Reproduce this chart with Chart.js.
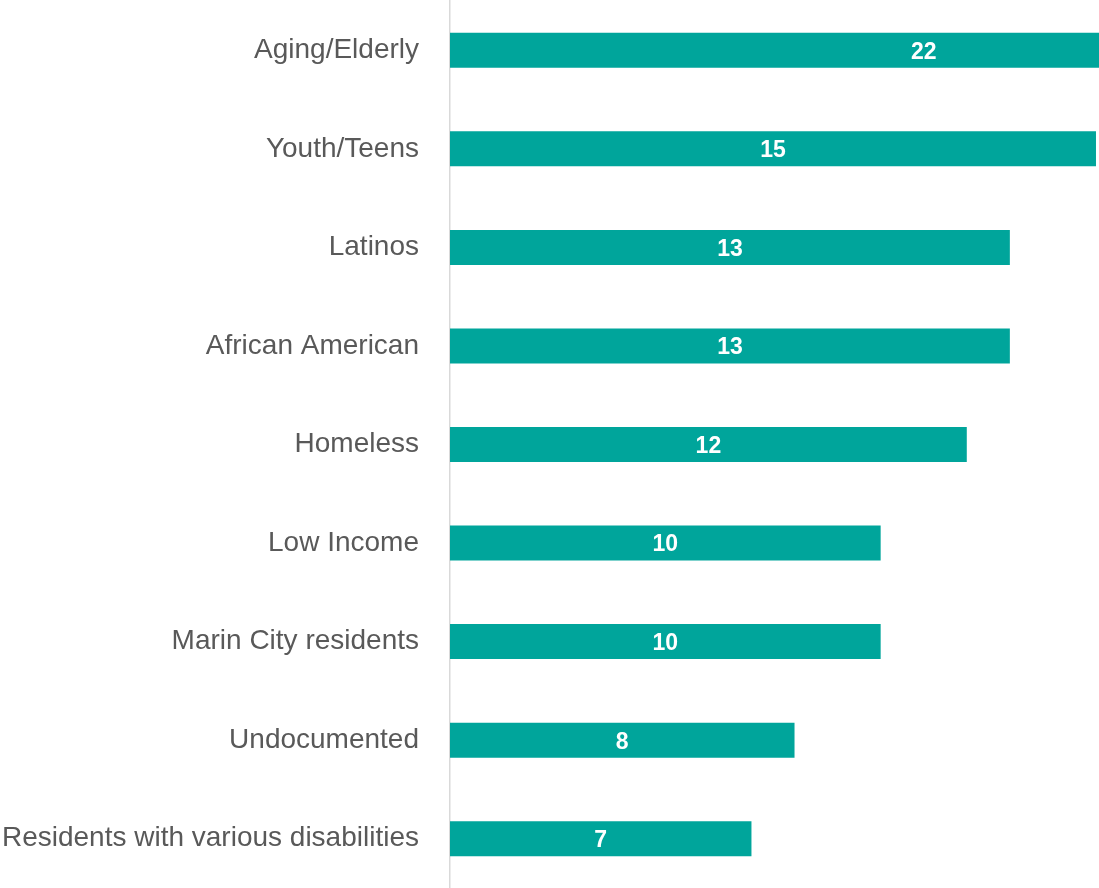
<!DOCTYPE html>
<html>
<head>
<meta charset="utf-8">
<script src="https://cdn.jsdelivr.net/npm/chart.js@4.4.1/dist/chart.umd.min.js"></script>
<style>
html,body{margin:0;padding:0;background:#fff;}
#wrap{width:1099px;height:888px;}
</style>
</head>
<body>
<div id="wrap"><canvas id="c" width="1099" height="888"></canvas></div>
<script>
const categories = ["Aging/Elderly","Youth/Teens","Latinos","African American","Homeless","Low Income","Marin City residents","Undocumented","Residents with various disabilities"];
const counts = [22,15,13,13,12,10,10,8,7];
const xMax = 15.07;

const valueLabels = {
  id: 'valueLabels',
  afterDatasetsDraw(chart) {
    const ctx = chart.ctx;
    const meta = chart.getDatasetMeta(0);
    const xs = chart.scales.x;
    ctx.save();
    ctx.fillStyle = '#ffffff';
    ctx.font = 'bold 23px "Liberation Sans", Arial, sans-serif';
    ctx.textAlign = 'center';
    ctx.textBaseline = 'middle';
    meta.data.forEach((bar, i) => {
      const base = xs.getPixelForValue(0);
      const end = xs.getPixelForValue(counts[i]);
      ctx.fillText(String(counts[i]), (base + end) / 2, bar.y + 2);
    });
    ctx.restore();
  }
};

new Chart(document.getElementById('c'), {
  type: 'bar',
  data: {
    labels: categories,
    datasets: [{
      data: counts,
      backgroundColor: '#00A59B',
      borderWidth: 0,
      barPercentage: 0.355,
      categoryPercentage: 1.0
    }]
  },
  options: {
    indexAxis: 'y',
    responsive: false,
    animation: false,
    layout: { padding: { top: 1, bottom: 0 } },
    plugins: { legend: { display: false }, tooltip: { enabled: false } },
    scales: {
      x: {
        display: false,
        min: 0,
        max: xMax
      },
      y: {
        afterFit(scale) { scale.width = 450; scale.paddingTop = 0; scale.paddingBottom = 0; },
        grid: { display: true, drawOnChartArea: false, drawTicks: false, color: 'rgba(0,0,0,0)' },
        border: { display: true, color: '#d9d9d9', width: 1.5 },
        ticks: {
          color: '#595959',
          padding: 31,
          font: { family: '"Liberation Sans", Arial, sans-serif', size: 28 }
        }
      }
    }
  },
  plugins: [valueLabels]
});
</script>
</body>
</html>
